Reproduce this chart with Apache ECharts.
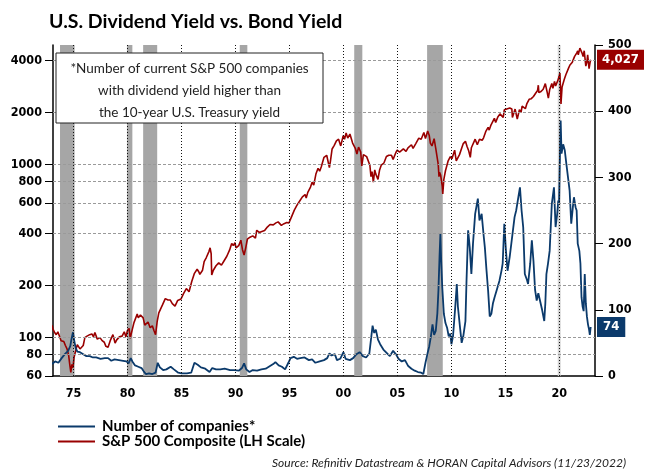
<!DOCTYPE html>
<html><head><meta charset="utf-8">
<script src="https://cdn.jsdelivr.net/npm/echarts@6/dist/echarts.min.js"></script>
<style>html,body{margin:0;padding:0;background:#fff}#c{width:650px;height:476px}</style>
</head><body><div id="c"></div>
<script>
// ---- S&P 500 Composite (left, log scale) ----
const spDates = [1973.0,1973.1,1973.25,1973.4,1973.55,1973.7,1973.85,1973.95,
1974.1,1974.25,1974.4,1974.55,1974.65,1974.75,1974.85,1974.95,
1975.05,1975.2,1975.35,1975.5,1975.6,1975.75,1975.9,
1976.05,1976.25,1976.5,1976.7,1976.85,1976.98,
1977.2,1977.45,1977.65,1977.85,1978.0,1978.2,1978.4,1978.65,1978.85,1979.0,
1979.25,1979.5,1979.7,1979.85,1980.0,1980.15,1980.25,1980.45,1980.6,1980.9,1981.0,
1981.2,1981.45,1981.6,1981.75,1981.9,1982.1,1982.3,1982.45,1982.6,1982.75,1982.9,1983.0,
1983.25,1983.5,1983.75,1983.95,1984.15,1984.4,1984.55,1984.65,1984.95,
1985.2,1985.45,1985.7,1985.95,1986.2,1986.45,1986.6,1986.7,1986.95,
1987.1,1987.3,1987.55,1987.65,1987.75,1987.8,1987.95,
1988.2,1988.45,1988.7,1988.95,1989.2,1989.45,1989.65,1989.8,1989.95,
1990.05,1990.3,1990.5,1990.65,1990.8,1990.95,1991.1,1991.35,1991.6,1991.85,1991.97,
1992.2,1992.45,1992.7,1992.95,1993.2,1993.5,1993.75,1993.95,1994.1,1994.25,1994.5,1994.75,1994.95,
1995.2,1995.45,1995.7,1995.95,1996.2,1996.45,1996.55,1996.7,1996.95,
1997.1,1997.25,1997.45,1997.65,1997.8,1997.95,1998.2,1998.45,1998.6,1998.7,1998.8,1998.95,
1999.15,1999.35,1999.55,1999.75,1999.98,2000.1,2000.25,2000.4,2000.6,2000.7,2000.85,2000.98,
2001.1,2001.25,2001.4,2001.6,2001.7,2001.85,2001.98,2002.15,2002.3,2002.45,2002.55,2002.65,2002.77,2002.9,2003.0,
2003.2,2003.35,2003.5,2003.75,2003.98,2004.2,2004.45,2004.6,2004.85,2004.98,
2005.2,2005.3,2005.55,2005.8,2005.98,2006.3,2006.45,2006.7,2006.98,
2007.15,2007.2,2007.45,2007.6,2007.8,2007.95,2008.05,2008.2,2008.4,2008.55,2008.7,2008.78,2008.85,2008.9,2009.0,
2009.15,2009.2,2009.3,2009.45,2009.55,2009.7,2009.9,2010.05,2010.3,2010.45,2010.55,2010.75,2010.98,
2011.1,2011.3,2011.45,2011.6,2011.75,2011.85,2011.98,2012.2,2012.4,2012.6,2012.85,2012.98,
2013.2,2013.4,2013.5,2013.65,2013.75,2013.98,2014.1,2014.3,2014.5,2014.6,2014.8,2014.9,2014.98,
2015.2,2015.4,2015.6,2015.65,2015.75,2015.9,2016.0,2016.1,2016.3,2016.45,2016.55,2016.85,2016.98,
2017.2,2017.4,2017.6,2017.8,2017.98,2018.05,2018.1,2018.3,2018.5,2018.7,2018.85,2018.98,
2019.1,2019.3,2019.4,2019.55,2019.65,2019.85,2019.98,2020.05,2020.15,2020.25,2020.45,2020.6,2020.75,2020.85,2020.98,
2021.2,2021.4,2021.6,2021.7,2021.75,2021.9,2021.99,2022.1,2022.2,2022.3,2022.45,2022.55,2022.62,2022.75,2022.85,2022.9];
const spValues = [118,112,107,104,108,106,96,98,
95,90,86,79,70,63,70,67,
77,84,91,92,86,85,90,
100,102,104,105,101,107,
98,100,96,94,89,88,96,104,93,97,
101,102,108,101,110,113,99,112,122,137,130,
135,130,118,116,123,114,117,110,104,124,139,141,
155,168,165,165,157,152,151,164,167,
180,192,184,211,235,248,240,232,245,
275,290,315,330,305,230,245,
260,270,262,278,295,320,350,340,353,
330,340,365,322,300,330,370,380,387,376,417,
405,410,415,435,450,448,460,466,478,445,455,462,459,
500,545,582,615,650,670,640,690,740,
790,760,880,950,915,970,1100,1130,1150,960,1050,1229,
1290,1370,1400,1280,1469,1400,1520,1420,1500,1510,1330,1320,
1240,1150,1260,1180,980,1140,1148,1110,1100,990,850,910,790,930,880,
820,930,990,1020,1111,1130,1130,1070,1170,1211,
1180,1150,1230,1190,1248,1300,1240,1320,1418,
1440,1400,1530,1410,1560,1470,1330,1280,1410,1240,1260,1000,850,900,870,
750,676,820,920,900,1050,1110,1080,1210,1050,1030,1140,1257,
1320,1360,1270,1200,1100,1250,1257,1400,1300,1400,1380,1426,
1560,1640,1580,1680,1640,1848,1750,1880,1960,1920,1870,2070,2058,
2100,2120,2090,1870,1900,2090,2040,1830,2070,2000,2170,2100,2238,
2380,2400,2470,2580,2673,2870,2600,2640,2720,2930,2650,2420,
2700,2940,2750,3020,2840,3050,3230,3380,2240,2800,3100,3300,3300,3600,3756,
3900,4200,4400,4530,4300,4700,4790,4400,4200,4540,3700,3900,4300,3580,3900,4027];

// ---- Number of companies (right scale) ----
const coDates = [1973.0,1973.3,1973.6,1973.9,1974.2,1974.5,1974.7,1974.8,1974.95,1975.05,1975.2,1975.35,1975.6,1975.9,
1976.2,1976.5,1976.8,1977.1,1977.5,1977.9,1978.2,1978.5,1978.8,1979.2,1979.6,1979.9,1980.1,1980.3,1980.45,1980.7,
1981.0,1981.3,1981.5,1981.7,1982.0,1982.3,1982.6,1982.8,1983.0,1983.3,1983.6,1984.0,1984.3,1984.7,1985.0,1985.5,1985.9,
1986.2,1986.5,1986.8,1987.2,1987.6,1987.85,1988.2,1988.6,1989.0,1989.5,1989.9,1990.3,1990.6,1990.8,1991.0,1991.3,1991.6,
1992.0,1992.4,1992.8,1993.2,1993.5,1993.7,1994.0,1994.3,1994.6,1994.9,1995.1,1995.4,1995.7,1996.0,1996.4,1996.8,
1997.1,1997.4,1997.8,1998.2,1998.5,1998.7,1998.9,1999.2,1999.4,1999.7,2000.0,2000.2,2000.6,2000.9,2001.2,2001.5,2001.8,
2002.1,2002.4,2002.6,2002.7,2002.85,2003.0,2003.2,2003.4,2003.7,2004.0,2004.3,2004.6,2004.9,2005.1,2005.4,2005.7,
2006.0,2006.3,2006.6,2006.9,2007.2,2007.4,2007.6,2007.8,2007.95,2008.1,2008.25,2008.4,2008.55,2008.7,2008.8,2008.9,2008.98,
2009.05,2009.15,2009.3,2009.45,2009.6,2009.75,2009.9,2010.0,2010.15,2010.35,2010.5,2010.6,2010.8,2010.95,
2011.1,2011.3,2011.4,2011.55,2011.7,2011.85,2012.0,2012.2,2012.45,2012.6,2012.8,2013.0,2013.1,2013.25,2013.4,2013.55,2013.7,2013.85,
2014.0,2014.2,2014.45,2014.65,2014.75,2014.9,2015.05,2015.2,2015.4,2015.55,2015.7,2015.85,2016.0,2016.2,2016.35,2016.5,2016.65,2016.8,
2017.0,2017.1,2017.3,2017.45,2017.6,2017.75,2017.9,2018.05,2018.2,2018.4,2018.6,2018.7,2018.8,2018.95,
2019.1,2019.3,2019.5,2019.65,2019.8,2019.9,2019.97,2020.05,2020.12,2020.2,2020.35,2020.5,2020.65,2020.8,2020.95,
2021.1,2021.25,2021.35,2021.5,2021.6,2021.7,2021.85,2021.95,2022.05,2022.15,2022.25,2022.35,2022.45,2022.55,2022.65,2022.75,2022.82,2022.9];
const coValues = [18,22,20,27,33,38,45,55,66,55,42,37,36,33,
30,30,28,28,26,27,27,23,25,24,23,22,19,27,22,16,
14,12,7,3,4,3,5,20,13,9,10,14,10,5,4,4,5,
20,17,13,11,6,12,10,10,11,9,9,8,12,19,10,6,9,
8,10,11,15,18,21,16,14,10,20,27,29,26,27,28,24,
25,20,22,24,27,34,31,33,24,26,36,26,24,27,33,36,30,
28,34,62,76,65,70,55,48,40,35,30,38,32,26,22,24,
15,11,8,6,5,3,20,35,45,60,78,62,68,95,130,180,215,
175,135,94,80,73,60,64,48,60,103,139,105,73,50,
60,83,144,220,194,154,200,245,268,235,245,210,194,160,129,90,94,110,
119,130,144,160,170,230,190,159,180,200,220,240,250,270,285,250,225,154,
145,139,170,205,174,130,114,125,124,100,83,110,154,170,
189,260,285,225,245,265,260,330,386,336,350,341,320,300,280,
230,255,270,255,250,200,189,170,119,105,98,154,110,90,78,70,62,74];

// ---- axes / bands ----
const xTicks = [1975,1980,1985,1990,1995,2000,2005,2010,2015,2020];
const leftTicks = [60,80,100,200,400,600,800,1000,2000,4000];
const leftGrid = [80,100,200,400,600,800,1000,2000,4000];
const recStart = [1973.75,1979.95,1981.45,1990.4,2001.0,2007.75,2019.85];
const recEnd   = [1975.1,1980.45,1982.75,1991.1,2001.75,2009.2,2020.12];

const spData = spDates.map((d,i)=>[d,spValues[i]]);
const coData = coDates.map((d,i)=>[d,coValues[i]]);
const spLast = spValues[spValues.length-1];
const coLast = coValues[coValues.length-1];

const AX = "'DejaVu Sans Condensed','DejaVu Sans',sans-serif";
const TX = "Lato,'Open Sans',sans-serif";
const RED = '#990000', BLUE = '#0b3a6b';

const chart = echarts.init(document.getElementById('c'), null, {renderer:'canvas'});
chart.setOption({
  animation:false,
  backgroundColor:'#fff',
  title:[
    {text:'U.S. Dividend Yield vs. Bond Yield', left:44, top:7,
     textStyle:{fontFamily:TX, fontWeight:'bold', fontSize:19.5, color:'#000'}},
    {text:'Source: Refinitiv Datastream & HORAN Capital Advisors (11/23/2022)', right:19, top:452,
     textStyle:{fontFamily:TX, fontStyle:'italic', fontWeight:'normal', fontSize:12, color:'#222'}}
  ],
  legend:{
    orient:'vertical', left:58, top:419, padding:0, itemWidth:37, itemHeight:2, itemGap:0, icon:'rect',
    height:40,
    data:['Number of companies*','S&P 500 Composite (LH Scale)'],
    textStyle:{fontFamily:TX, fontWeight:'bold', fontSize:15, lineHeight:14, color:'#000', padding:[0,0,0,2]}
  },
  grid:{left:53, right:55, top:45, bottom:100},
  xAxis:{
    type:'value', min:1973.1, max:2023.3,
    axisLine:{lineStyle:{color:'#000', width:1.5}},
    axisTick:{show:false},
    splitLine:{show:false},
    axisLabel:{customValues:xTicks, margin:11, color:'#000', fontFamily:AX, fontWeight:'bold', fontSize:12.5,
      formatter:v=>String(Math.round(v)%100).padStart(2,'0')}
  },
  yAxis:[
    {type:'log', logBase:10, min:60, max:4900, position:'left',
     axisLine:{show:true, lineStyle:{color:'#000', width:1.5}},
     axisTick:{show:true, length:8, customValues:leftTicks, lineStyle:{color:'#000'}},
     splitLine:{show:false}, minorTick:{show:false},
     axisLabel:{customValues:leftTicks, margin:11, color:'#000', fontFamily:AX, fontWeight:'bold', fontSize:12.5,
       formatter:v=>String(Math.round(v))}},
    {type:'value', min:0, max:500, interval:100, position:'right',
     axisLine:{show:true, lineStyle:{color:'#000', width:1.5}},
     axisTick:{show:true, length:8, lineStyle:{color:'#000'}},
     splitLine:{show:false},
     axisLabel:{margin:13, color:'#000', fontFamily:AX, fontWeight:'bold', fontSize:12.5}},
    {type:'log', logBase:10, min:60, max:4900, position:'right',
     axisLine:{show:false}, axisTick:{show:false}, splitLine:{show:false},
     axisLabel:{customValues:[spLast], margin:2, color:'#fff', backgroundColor:RED, padding:[4,5,3,5],
       fontFamily:AX, fontWeight:'bold', fontSize:13, formatter:v=>Math.round(v).toLocaleString('en-US')}},
    {type:'value', min:0, max:500, position:'right',
     axisLine:{show:false}, axisTick:{show:false}, splitLine:{show:false},
     axisLabel:{customValues:[coLast], margin:2, color:'#fff', backgroundColor:BLUE, padding:[4,6,3,6],
       fontFamily:AX, fontWeight:'bold', fontSize:13, formatter:v=>String(Math.round(v))}}
  ],
  series:[
    {name:'bands', type:'line', data:[], xAxisIndex:0, yAxisIndex:0, z:1, silent:true,
     markArea:{silent:true,
       data: recStart.map((s,i)=>[{xAxis:s, itemStyle:{color: i===6?'#d3d3d3':'#a6a6a6'}},{xAxis:recEnd[i]}])},
     markLine:{silent:true, symbol:['none','none'], label:{show:false},
       data: xTicks.map(x=>({xAxis:x, lineStyle:{type:[1,2], color:'#111', width:1}}))
         .concat(leftGrid.map(y=>({yAxis:y, lineStyle:{type:[3,2], color:'#9a9a9a', width:1}})))}
    },
    {name:'S&P 500 Composite (LH Scale)', type:'line', data:spData, xAxisIndex:0, yAxisIndex:0, z:3,
     symbol:'none', showSymbol:false, lineStyle:{color:RED, width:1.6}, itemStyle:{color:RED}},
    {name:'Number of companies*', type:'line', data:coData, xAxisIndex:0, yAxisIndex:1, z:4,
     symbol:'none', showSymbol:false, lineStyle:{color:BLUE, width:1.8}, itemStyle:{color:BLUE}}
  ],
  graphic:[
    {type:'rect', shape:{x:56, y:53, width:267, height:70}, style:{fill:'#fff', stroke:'#222', lineWidth:1}, z:100},
    {type:'text', x:189.5, y:90.5, z:101,
     style:{text:'*Number of current S&P 500 companies\nwith dividend yield higher than\nthe 10-year U.S. Treasury yield',
       align:'center', verticalAlign:'middle', lineHeight:22, fill:'#222', font:"13.5px Lato,'Open Sans',sans-serif"}}
  ]
});
</script>
</body></html>
